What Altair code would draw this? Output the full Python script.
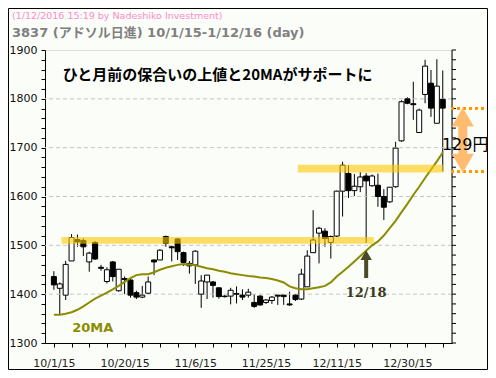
import altair as alt
import pandas as pd

# ---------------- data ----------------
dates = ["10/1","10/2","10/5","10/6","10/7","10/8","10/9","10/13","10/14","10/15",
         "10/16","10/19","10/20","10/21","10/22","10/23","10/26","10/27","10/28","10/29",
         "10/30","11/2","11/4","11/5","11/6","11/9","11/10","11/11","11/12","11/13",
         "11/16","11/17","11/18","11/19","11/20","11/24","11/25","11/26","11/27","11/30",
         "12/1","12/2","12/3","12/4","12/7","12/8","12/9","12/10","12/11","12/14",
         "12/15","12/16","12/17","12/18","12/21","12/22","12/24","12/25","12/28","12/29",
         "12/30","1/4","1/5","1/6","1/7","1/8","1/12"]

opens  = [1436,1412,1398,1468,1512,1510,1466,1506,1455,1426,1466,1407,1432,1429,1403,1394,1402,1470,1470,1518,
          1497,1513,1485,1458,1460,1400,1425,1425,1413,1396,1396,1401,1398,1398,1383,1396,1383,1387,1398,1398,
          1380,1398,1390,1415,1485,1525,1529,1506,1519,1611,1647,1612,1620,1642,1622,1623,1600,1589,1620,1714,
          1800,1790,1731,1809,1832,1750,1799]
highs  = [1447,1424,1468,1523,1522,1514,1487,1509,1460,1455,1468,1451,1436,1431,1407,1417,1436,1471,1492,1520,
          1500,1515,1487,1468,1490,1439,1439,1427,1414,1398,1413,1416,1410,1411,1400,1398,1390,1396,1398,1398,
          1405,1400,1452,1490,1572,1538,1535,1520,1612,1671,1664,1646,1650,1648,1645,1647,1615,1619,1712,1797,
          1803,1835,1780,1880,1859,1881,1858]
lows   = [1409,1357,1388,1468,1497,1478,1446,1470,1448,1422,1426,1405,1400,1393,1390,1392,1400,1439,1470,1497,
          1467,1470,1458,1442,1421,1372,1390,1393,1391,1393,1379,1381,1388,1393,1372,1376,1380,1380,1378,1378,
          1376,1386,1388,1415,1485,1463,1497,1473,1517,1559,1597,1601,1609,1505,1620,1579,1552,1587,1618,1712,
          1789,1757,1731,1791,1763,1750,1651]
closes = [1419,1421,1461,1516,1507,1497,1484,1472,1453,1450,1436,1451,1430,1398,1394,1398,1425,1466,1490,1504,
          1495,1487,1465,1463,1488,1427,1439,1418,1395,1395,1408,1400,1394,1404,1375,1378,1388,1394,1396,1395,
          1378,1389,1441,1478,1511,1535,1514,1518,1611,1664,1612,1621,1640,1632,1642,1600,1578,1619,1699,1794,
          1791,1788,1777,1867,1781,1826,1781]
ma20   = [1358,1358,1360,1363,1368,1375,1383,1391,1397,1403,1410,1417,1425,1433,1439,1441,1441,1445,1450,1454,
          1457,1460,1462,1461,1459,1456,1453,1451,1448,1446,1443,1441,1439,1437,1436,1434,1433,1431,1428,1424,
          1416,1412,1410,1410,1412,1414,1417,1424,1436,1446,1456,1467,1478,1489,1500,1508,1520,1535,1550,1568,
          1585,1603,1620,1638,1655,1672,1690]

tick_label_idx = [0, 12, 24, 36, 48, 60]
tick_labels = ["10/1/15", "10/20/15", "11/6/15", "11/25/15", "12/11/15", "12/30/15"]
grid_values = [1400, 1500, 1600, 1700, 1800]
y_ticks = list(range(1300, 1901, 20))

# support bands (start index, end index, low price, high price)
band_x1 = [1.3, 41.4]
band_x2 = [54.3, 66.1]
band_lo = [1503, 1649]
band_hi = [1517, 1665]

# annotations
note_text = "ひと月前の保合いの上値と20MAがサポートに"
title_sub = "(1/12/2016 15:19 by Nadeshiko Investment)"
title_main = "3837 (アドソル日進) 10/1/15-1/12/16 (day)"
drop_top = 1780
drop_bottom = 1651
drop_label = f"{drop_top - drop_bottom}円"

df = pd.DataFrame({"i": list(range(len(dates))), "date": dates, "open": opens,
                   "high": highs, "low": lows, "close": closes, "ma": ma20})

FONT = "DejaVu Sans, Noto Sans CJK JP"
JFONT = "Noto Sans CJK JP"

xscale = alt.Scale(domain=[-0.66, 66.72], nice=False, zero=False)
yscale = alt.Scale(domain=[1300, 1900], nice=False, zero=False)

x_label_expr = " : ".join(f"datum.value == {i} ? '{t}'" for i, t in zip(tick_label_idx, tick_labels)) + " : ''"

xaxis = alt.Axis(values=list(range(0, 67, 3)), labelExpr=x_label_expr, title=None, grid=False,
                 tickSize=4, tickColor="black", domainColor="black", labelColor="#222222",
                 labelFontSize=11, labelFont="DejaVu Sans", labelPadding=10, labelFlush=False,
                 labelOverlap=False)
yaxis_left = alt.Axis(values=y_ticks, format="d",
                      labelExpr="datum.value % 100 == 0 ? datum.label : ''", title=None, grid=False,
                      tickSize=4, tickColor="black", domainColor="black", labelColor="#111111",
                      labelFontSize=11, labelFont="DejaVu Sans", labelPadding=4, labelFlush=False,
                      labelOverlap=False)

base = alt.Chart(df)

wicks = base.mark_rule(color="black", strokeWidth=1).encode(
    x=alt.X("i:Q", scale=xscale, axis=xaxis),
    y=alt.Y("low:Q", scale=yscale, axis=yaxis_left),
    y2="high:Q",
)

gdf = pd.DataFrame({"g": grid_values})
grid = alt.Chart(gdf).mark_rule(color="#c4c4c4", strokeDash=[4, 3], strokeWidth=1).encode(
    y=alt.Y("g:Q", scale=yscale, axis=yaxis_left)
)

# right-hand axis line with minor ticks (no labels), as in the reference
rdf = pd.DataFrame({"v": y_ticks})
right_ticks = alt.Chart(rdf).mark_rule(color="black", strokeWidth=1).encode(
    x=alt.value(407), x2=alt.value(411), y=alt.Y("v:Q", scale=yscale, axis=yaxis_left))
rldf = pd.DataFrame({"lo": [1300], "hi": [1900]})
right_line = alt.Chart(rldf).mark_rule(color="black", strokeWidth=1).encode(
    x=alt.value(407), y=alt.Y("lo:Q", scale=yscale, axis=yaxis_left), y2="hi:Q")

bodies = base.mark_bar(size=5, stroke="black", strokeWidth=1).encode(
    x=alt.X("i:Q", scale=xscale, axis=xaxis),
    y=alt.Y("open:Q", scale=yscale, axis=yaxis_left),
    y2="close:Q",
    fill=alt.condition("datum.close >= datum.open", alt.value("white"), alt.value("black")),
)
ma_line = base.mark_line(color="#8c8c00", strokeWidth=2).encode(
    x=alt.X("i:Q", scale=xscale, axis=xaxis), y=alt.Y("ma:Q", scale=yscale, axis=yaxis_left)
)

bdf = pd.DataFrame({"x1": band_x1, "x2": band_x2, "lo": band_lo, "hi": band_hi})
bands = alt.Chart(bdf).mark_rect(color="#FFC800", opacity=0.6).encode(
    x=alt.X("x1:Q", scale=xscale, axis=xaxis), x2="x2:Q",
    y=alt.Y("lo:Q", scale=yscale, axis=yaxis_left), y2="hi:Q",
)

# 12/18 arrow
adf = pd.DataFrame({"x": [53], "y1": [1433], "y2": [1472], "head": [1480], "ty": [1403], "t": ["12/18"]})
arrow_shaft = alt.Chart(adf).mark_rule(color="#4a4a24", strokeWidth=4).encode(
    x=alt.X("x:Q", scale=xscale, axis=xaxis), y=alt.Y("y1:Q", scale=yscale, axis=yaxis_left), y2="y2:Q")
arrow_head = alt.Chart(adf).mark_point(shape="triangle-up", filled=True, size=130, opacity=1,
                                       color="#4a4a24").encode(
    x=alt.X("x:Q", scale=xscale, axis=xaxis), y=alt.Y("head:Q", scale=yscale, axis=yaxis_left))
arrow_text = alt.Chart(adf).mark_text(font="DejaVu Serif", fontSize=13, fontWeight="bold",
                                      color="#3a3a22", baseline="middle").encode(
    x=alt.X("x:Q", scale=xscale, axis=xaxis), y=alt.Y("ty:Q", scale=yscale, axis=yaxis_left), text="t:N")

# texts inside plot
tdf = pd.DataFrame({"x": [1.5, 6.6], "y": [1849, 1330], "t": [note_text, "20MA"]})
note = alt.Chart(tdf.iloc[[0]]).mark_text(font=JFONT, fontSize=15, fontWeight="bold", color="black",
                                          align="left", baseline="middle").encode(
    x=alt.X("x:Q", scale=xscale, axis=xaxis), y=alt.Y("y:Q", scale=yscale, axis=yaxis_left), text="t:N")
ma_label = alt.Chart(tdf.iloc[[1]]).mark_text(font="DejaVu Sans", fontSize=13, fontWeight="bold",
                                              color="#8c8c00", baseline="middle").encode(
    x=alt.X("x:Q", scale=xscale, axis=xaxis), y=alt.Y("y:Q", scale=yscale, axis=yaxis_left), text="t:N")

# 129 yen annotation (outside the plot, right side)
ddf = pd.DataFrame({"x1": [67.4, 67.4], "x2": [73.0, 73.0], "y": [drop_top, drop_bottom]})
drop_lines = alt.Chart(ddf).mark_rule(color="#FF9900", strokeWidth=3, strokeDash=[3, 3]).encode(
    x=alt.X("x1:Q", scale=xscale, axis=xaxis), x2="x2:Q", y=alt.Y("y:Q", scale=yscale, axis=yaxis_left))
sdf = pd.DataFrame({"x": [69.4], "y1": [1748], "y2": [1683], "top": [1763], "bot": [1668],
                    "tx": [69.8], "ty": [1705], "t": [drop_label]})
drop_shaft = alt.Chart(sdf).mark_rule(color="#FFBB70", strokeWidth=9).encode(
    x=alt.X("x:Q", scale=xscale, axis=xaxis), y=alt.Y("y1:Q", scale=yscale, axis=yaxis_left), y2="y2:Q")
drop_head_up = alt.Chart(sdf).mark_point(shape="triangle-up", filled=True, size=480, opacity=1,
                                         color="#FFBB70").encode(
    x=alt.X("x:Q", scale=xscale, axis=xaxis), y=alt.Y("top:Q", scale=yscale, axis=yaxis_left))
drop_head_dn = alt.Chart(sdf).mark_point(shape="triangle-down", filled=True, size=480, opacity=1,
                                         color="#FFBB70").encode(
    x=alt.X("x:Q", scale=xscale, axis=xaxis), y=alt.Y("bot:Q", scale=yscale, axis=yaxis_left))
drop_text = alt.Chart(sdf).mark_text(font=FONT, fontSize=16, color="black", baseline="middle").encode(
    x=alt.X("tx:Q", scale=xscale, axis=xaxis), y=alt.Y("ty:Q", scale=yscale, axis=yaxis_left), text="t:N")

# titles
ttl = pd.DataFrame({"t": [title_sub]})
title1 = alt.Chart(ttl).mark_text(font="DejaVu Sans", fontSize=9.5, color="#FF8ACB", align="left",
                                  baseline="middle").encode(
    x=alt.value(-33), y=alt.value(-34), text="t:N")
ttl2 = pd.DataFrame({"t": [title_main]})
title2 = alt.Chart(ttl2).mark_text(font=FONT, fontSize=13, fontWeight="bold", color="#808080",
                                   align="left", baseline="middle").encode(
    x=alt.value(-33), y=alt.value(-17), text="t:N")

border = alt.Chart(ttl).mark_rect(fill=None, stroke="black", strokeWidth=1).encode(
    x=alt.value(-36.5), x2=alt.value(442.5), y=alt.value(-41.5), y2=alt.value(319.5))

chart = alt.layer(
    wicks, grid, bodies, ma_line, bands, right_line, right_ticks,
    arrow_shaft, arrow_head, arrow_text, note, ma_label,
    drop_lines, drop_shaft, drop_head_up, drop_head_dn, drop_text,
    title1, title2, border,
).properties(
    width=407, height=293,
    padding={"left": 37, "top": 42, "right": 36, "bottom": 27},
    autosize="none",
    background="#FBFDF8",
).configure_view(fill="#FFFFD6", stroke="#999999").configure(font="DejaVu Sans")

chart.save("out.html", embed_options={"renderer": "svg", "actions": False})
